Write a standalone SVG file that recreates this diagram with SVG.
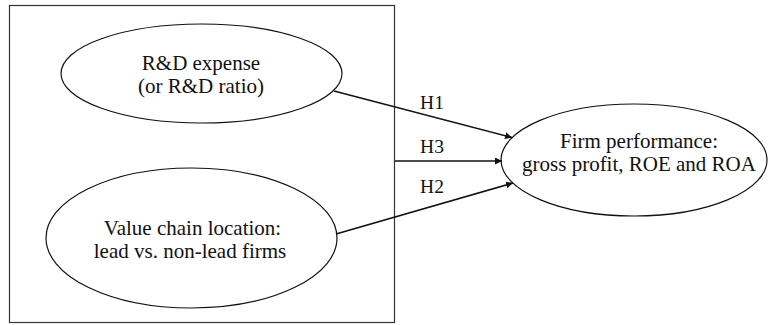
<svg xmlns="http://www.w3.org/2000/svg" width="768" height="325" viewBox="0 0 768 325">
<style>
text{font-family:"Liberation Serif","Times New Roman",serif;font-size:21px;fill:#111;text-anchor:middle}
text.h{font-size:19.5px}
.n{fill:#fff;stroke:#111;stroke-width:1.2}
.c{stroke:#111;stroke-width:1.6;fill:none}
</style>
<defs>
<marker id="ah" viewBox="0 0 10 10" refX="10" refY="5" markerWidth="7" markerHeight="7" markerUnits="userSpaceOnUse" orient="auto">
<path d="M0,0 L10,5 L0,10 z" fill="#111"/>
</marker>
</defs>
<rect x="9.5" y="5.5" width="385" height="317" fill="none" stroke="#333" stroke-width="1.2"/>
<g id="n1">
<ellipse class="n" cx="201.5" cy="73.5" rx="140.5" ry="49.5"/>
<text x="201" y="70">R&amp;D expense</text>
<text x="201" y="93">(or R&amp;D ratio)</text>
</g>
<g id="n2">
<ellipse class="n" cx="191.5" cy="238" rx="145.5" ry="70"/>
<text x="192.5" y="235">Value chain location:</text>
<text x="190" y="258">lead vs. non-lead firms</text>
</g>
<g id="n3">
<ellipse class="n" cx="634" cy="160" rx="133" ry="56"/>
<text x="639" y="148">Firm performance:</text>
<text x="639" y="171">gross profit, ROE and ROA</text>
</g>
<g id="connectors">
<line class="c" x1="334" y1="91" x2="512" y2="137.5" marker-end="url(#ah)"/>
<line class="c" x1="395" y1="161" x2="502" y2="161" marker-end="url(#ah)"/>
<line class="c" x1="336" y1="234" x2="513" y2="183" marker-end="url(#ah)"/>
<text class="h" x="432" y="109">H1</text>
<text class="h" x="432" y="153">H3</text>
<text class="h" x="432" y="193">H2</text>
</g>
</svg>
